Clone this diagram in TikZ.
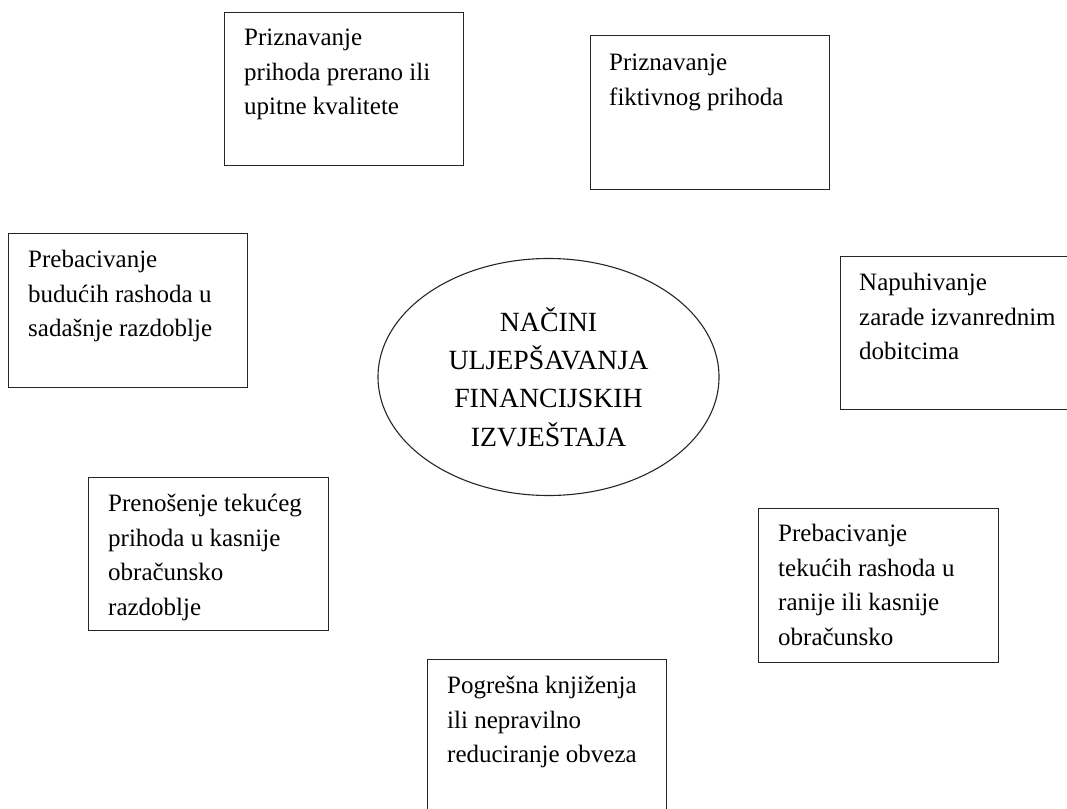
\documentclass[tikz,border=0pt]{standalone}
\usepackage{fontspec}
\setmainfont{Liberation Serif}
\usepackage{tikz}
\usetikzlibrary{shapes.geometric}

\tikzset{
  okvir/.style={draw=black!85, line width=1.3pt, anchor=north west, inner sep=0pt,
    minimum width=239pt, minimum height=153pt},
  tekst/.style={anchor=north west, align=left, inner sep=0pt,
    font=\fontsize{25}{34.5}\selectfont},
}

\begin{document}
\begin{tikzpicture}[x=1pt,y=-1pt]
  \clip (0,0) rectangle (1067,808);
  \node[okvir] (b1) at (224,12) {};
  \node[okvir, minimum height=154pt] (b2) at (590,35) {};
  \node[okvir, minimum height=154pt] (b3) at (8,233) {};
  \node[okvir] (b4) at (840,256) {};
  \node[okvir, minimum width=240pt] (b5) at (88,477) {};
  \node[okvir, minimum width=240pt, minimum height=154pt] (b6) at (758,508) {};
  \node[okvir] (b7) at (427,659) {};
  \node[tekst] (t1) at (244,29) {Priznavanje\\prihoda prerano ili\\upitne kvalitete};
  \node[tekst] (t2) at (609,54) {Priznavanje\\fiktivnog prihoda};
  \node[tekst] (t3) at (28,250) {Prebacivanje\\budućih rashoda u\\sadašnje razdoblje};
  \node[tekst] (t4) at (859,273) {Napuhivanje\\zarade izvanrednim\\dobitcima};
  \node[tekst] (t5) at (108,494) {Prenošenje tekućeg\\prihoda u kasnije\\obračunsko\\razdoblje};
  \node[tekst] (t6) at (778,524) {Prebacivanje\\tekućih rashoda u\\ranije ili kasnije\\obračunsko};
  \node[tekst] (t7) at (447,676) {Pogrešna knjiženja\\ili nepravilno\\reduciranje obveza};
  \node[draw=black!85, line width=1.1pt, ellipse, minimum width=341pt, minimum height=237pt,
    inner sep=0pt, align=center, font=\fontsize{27.8}{38.3}\selectfont]
    (nacini) at (548.5,377) {NAČINI\\ULJEPŠAVANJA\\FINANCIJSKIH\\IZVJEŠTAJA};
\end{tikzpicture}
\end{document}
